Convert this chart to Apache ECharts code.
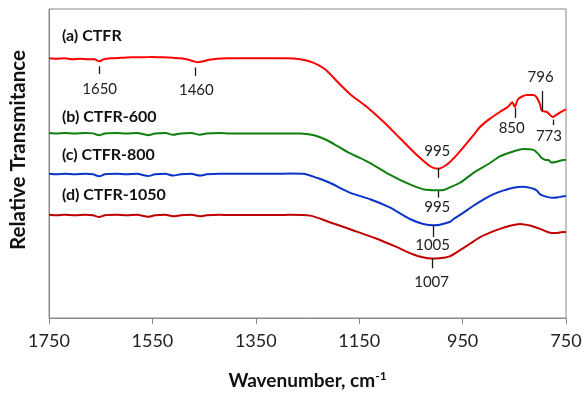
<!DOCTYPE html>
<html>
<head>
<meta charset="utf-8">
<script src="https://cdn.jsdelivr.net/npm/echarts@6/dist/echarts.min.js"></script>
<style>html,body{margin:0;padding:0;background:#fff}#chart{width:585px;height:395px}</style>
</head>
<body>
<div id="chart"></div>
<script>
// Wavenumber (cm-1) vs relative transmittance (arbitrary units, offset spectra)
const xTickLabels = [1750, 1550, 1350, 1150, 950, 750];
const seriesNames = ['(a) CTFR', '(b) CTFR-600', '(c) CTFR-800', '(d) CTFR-1050'];
const seriesColors = ['#ff0000', '#0f7f0f', '#0a34c8', '#c00000'];

const ctfr = [[1750,263],[1735,262.5],[1720,263],[1705,262],[1690,262.5],[1675,262],[1662,262],[1653,260],[1645,262],[1630,263],[1610,263.5],[1590,264],[1570,264],[1550,264.5],[1530,264],[1510,263.5],[1495,263],[1480,261.5],[1470,260],[1462,259],[1452,260],[1440,261.5],[1425,262.5],[1405,263],[1380,263],[1350,263],[1320,263],[1290,263],[1264,262],[1239,258.7],[1216,252],[1194,240.3],[1168,227],[1135,213.7],[1103,198.7],[1071,182],[1039,165.3],[1013,153.7],[997,151.3],[981,155.3],[961,165.3],[929,185.3],[916,193.7],[897,202],[878,208.7],[862,214],[854,218.5],[849,213.7],[843,221.5],[826,226],[813,226],[807,223.7],[800,216],[797,210],[787,208.7],[776,203.7],[762,208],[750,211.3]];

const ctfr600 = [[1750,187.5],[1735,187],[1720,187.5],[1700,187],[1680,187.5],[1665,187],[1653,185],[1642,187],[1620,187.5],[1600,187],[1580,187.5],[1558,185.2],[1545,187],[1525,187.5],[1510,185.5],[1495,187],[1475,187.5],[1458,185.5],[1445,187],[1420,187.5],[1400,187],[1370,187],[1340,187],[1310,187],[1280,187],[1264,187],[1239,185.3],[1213,180.3],[1190,173.5],[1168,167],[1129,157],[1091,145.3],[1052,135.3],[1026,130.3],[1010,129.5],[997,129.3],[985,130],[974,132.5],[955,137],[929,147],[897,157],[878,163.7],[852,168.7],[833,171.3],[813,170.3],[805,167],[797,162],[791,160.3],[784,160],[778,157.5],[770,158],[760,159.5],[750,160.3]];

const ctfr800 = [[1750,146],[1735,145.5],[1720,146],[1700,145.5],[1680,146],[1665,145.5],[1653,143.5],[1642,145.5],[1620,146],[1600,145.5],[1580,146],[1558,143.8],[1545,145.5],[1525,146],[1510,144.3],[1495,145.5],[1475,146],[1458,144.3],[1445,145.5],[1420,146],[1400,146],[1370,146],[1340,146],[1310,146],[1284,146.3],[1258,146],[1232,142],[1207,137],[1168,127],[1129,120.3],[1091,112],[1052,100.3],[1026,95.3],[1005,94],[994,94.5],[974,97.5],[968,100],[949,106.5],[929,113.7],[910,120],[891,125.3],[872,129],[852,132],[833,133],[813,131],[806,129],[800,125.3],[787,122.7],[775,121.7],[762,122.7],[750,123.7]];

const ctfr1050 = [[1750,104.5],[1735,104],[1720,104.5],[1700,104],[1680,104.5],[1665,104],[1653,102.3],[1642,104],[1620,104.5],[1600,104],[1580,104.5],[1558,102.5],[1545,104],[1525,104.5],[1510,103],[1495,104],[1475,104.5],[1458,103],[1445,104],[1420,104.5],[1400,104.3],[1370,104.3],[1340,104.3],[1310,104.3],[1284,104.5],[1245,103.7],[1207,97],[1161,88.7],[1116,80.3],[1078,72],[1045,64.3],[1025,61.2],[1010,60.3],[995,60.5],[987,61],[974,62.7],[955,68.7],[935,75.5],[916,82],[897,86.5],[878,90.3],[858,93.5],[839,95.3],[820,93.7],[800,90.3],[781,86.3],[770,86],[760,86.8],[750,87]];

// Series label anchors: [wavenumber, transmittance]
const nameAnchors = [[1725,286],[1725,203.7],[1725,165.3],[1725,125]];

// Peak annotations per series: [tick wavenumber, tick from, tick to, label wavenumber, label y, label text]
const peaksA = [[1653,255,247,1652,232,'1650'],[1467,253.7,245.3,1465,230.3,'1460'],[997,152,142,999,169.5,'995'],[849,212.7,202.7,855,192.7,'850'],[796,210,230,799,243.7,'796'],[775,201,195.3,783,183.7,'773']];
const peaksB = [[997,128.7,122,999,112,'995']];
const peaksC = [[1007,94,82,1008,74,'1005']];
const peaksD = [[1008,60.3,50.3,1010,36,'1007']];

const WN0 = 1750; // left end of axis
const fx = wn => WN0 - wn;

const allData = [ctfr, ctfr600, ctfr800, ctfr1050];
const allPeaks = [peaksA, peaksB, peaksC, peaksD];
const FONT = 'Lato';

// fit the y-axis title to the reference's text length
const yTitle = 'Relative Transmitance';
const mctx = document.createElement('canvas').getContext('2d');
mctx.font = 'bold 20px ' + FONT;
const yTitleSize = Math.max(14, Math.min(22, 20 * 200 / mctx.measureText(yTitle).width));

const series = allData.map((d, i) => ({
  name: seriesNames[i],
  type: 'line',
  data: d.map(p => [fx(p[0]), p[1]]),
  showSymbol: false,
  smooth: 0.25,
  lineStyle: { color: seriesColors[i], width: 2 },
  itemStyle: { color: seriesColors[i] },
  z: 2,
  markLine: {
    silent: true, symbol: 'none', animation: false,
    lineStyle: { color: '#1a1a1a', width: 1.3, type: 'solid' },
    label: { show: false },
    data: allPeaks[i].map(p => [{ coord: [fx(p[0]), p[1]] }, { coord: [fx(p[0]), p[2]] }])
  },
  markPoint: {
    silent: true, symbol: 'circle', symbolSize: 0, animation: false,
    data: allPeaks[i].map(p => ({
      coord: [fx(p[3]), p[4]],
      label: { show: true, position: 'inside', formatter: p[5], color: '#222', fontSize: 15, fontFamily: FONT }
    })).concat([{
      coord: [fx(nameAnchors[i][0]), nameAnchors[i][1]],
      label: { show: true, position: 'inside', align: 'left', formatter: seriesNames[i], color: '#111', fontSize: 16, fontWeight: 'bold', fontFamily: FONT }
    }])
  }
}));

const chart = echarts.init(document.getElementById('chart'), null, { renderer: 'canvas' });
chart.setOption({
  animation: false,
  backgroundColor: '#fff',
  grid: { left: 49, right: 19, top: 9, bottom: 73, show: true, borderColor: '#8a8a8a', borderWidth: 1 },
  graphic: [{
    type: 'text', rotation: Math.PI / 2,
    x: 18, y: 150,
    style: { text: yTitle, fontSize: yTitleSize, fontWeight: 'bold', fontFamily: FONT, fill: '#111', align: 'center', verticalAlign: 'middle' }
  }],
  xAxis: {
    type: 'value', min: 0, max: 1000, interval: 200,
    name: '{a|Wavenumber, cm}{b|-1}',
    nameLocation: 'middle', nameGap: 52,
    nameTextStyle: {
      rich: {
        a: { fontSize: 19, fontWeight: 'bold', fontFamily: FONT, color: '#111' },
        b: { fontSize: 12, fontWeight: 'bold', fontFamily: FONT, color: '#111', verticalAlign: 'top', padding: [0,0,9,0] }
      }
    },
    axisLine: { show: true, lineStyle: { color: '#8a8a8a', width: 1 } },
    axisTick: { show: true, inside: false, length: 6, lineStyle: { color: '#8a8a8a' } },
    axisLabel: { fontSize: 18, fontFamily: FONT, color: '#222', margin: 14,
      formatter: v => { const w = WN0 - v; return xTickLabels.indexOf(w) >= 0 ? String(w) : ''; } },
    splitLine: { show: false }
  },
  yAxis: {
    type: 'value', min: 0, max: 313,
    axisLine: { show: true, lineStyle: { color: '#8a8a8a' } },
    axisTick: { show: false }, axisLabel: { show: false }, splitLine: { show: false }
  },
  series: series
});
</script>
</body>
</html>
